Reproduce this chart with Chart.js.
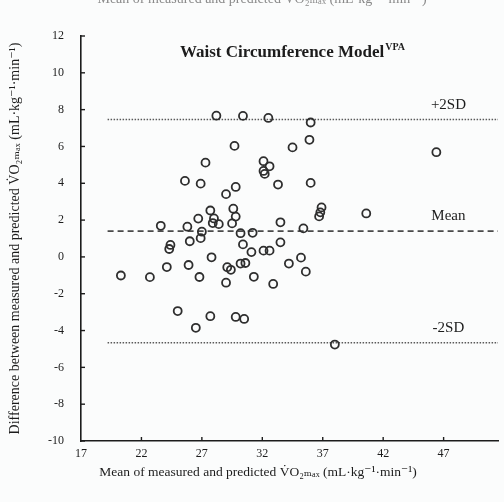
<!DOCTYPE html>
<html><head><meta charset="utf-8">
<script src="https://cdn.jsdelivr.net/npm/chart.js@4.4.1/dist/chart.umd.min.js"></script>
<style>html,body{margin:0;padding:0;background:#fbfcfc;}#wrap{width:504px;height:502px;position:relative;}</style>
</head><body><div id="wrap"><canvas id="c" width="504" height="502"></canvas></div>
<script>
// ---- data ----
const meanX = [28.2,30.4,32.5,36.0,35.9,29.7,34.5,46.4,27.3,32.1,32.6,32.1,32.2,25.6,26.9,33.3,36.0,29.8,29.0,29.6,27.7,36.9,36.8,36.7,40.6,26.7,28.0,29.8,27.9,28.4,29.5,33.5,23.6,25.8,35.4,27.0,31.2,30.2,26.9,26.0,30.4,33.5,24.4,24.3,31.1,32.1,32.6,27.8,35.2,30.2,30.6,24.1,25.9,29.1,29.4,34.2,35.6,20.3,22.7,26.8,31.3,29.0,32.9,25.0,27.7,29.8,30.5,26.5,38.0];
const diffY = [7.67,7.66,7.55,7.30,6.36,6.03,5.95,5.69,5.12,5.20,4.92,4.67,4.51,4.13,3.98,3.93,4.02,3.80,3.41,2.62,2.52,2.69,2.42,2.20,2.36,2.08,2.09,2.19,1.84,1.78,1.82,1.88,1.69,1.64,1.55,1.37,1.31,1.29,1.02,0.85,0.68,0.79,0.65,0.43,0.26,0.34,0.34,-0.02,-0.04,-0.36,-0.33,-0.55,-0.44,-0.56,-0.70,-0.36,-0.80,-1.01,-1.10,-1.09,-1.08,-1.40,-1.47,-2.94,-3.22,-3.26,-3.37,-3.85,-4.76];
const xTicks = [17,22,27,32,37,42,47];
const yTicks = [12,10,8,6,4,2,0,-2,-4,-6,-8,-10];
const limitNames = ['+2SD','Mean','-2SD'];
const limitValues = [7.46,1.40,-4.66];
const limitSpan = [19.2,51.5];
const chartTitle = 'Waist Circumference Model';
const chartTitleSup = 'VPA';
const xTitle = 'Mean of measured and predicted V\u0307O\u2082\u2098\u2090\u2093 (mL\u00B7kg\u207B\u00B9\u00B7min\u207B\u00B9)';
const yTitle = 'Difference between measured and predicted V\u0307O\u2082\u2098\u2090\u2093 (mL\u00B7kg\u207B\u00B9\u00B7min\u207B\u00B9)';
const topCutText = 'Mean of measured and predicted V\u0307O\u2082\u2098\u2090\u2093 (mL\u00B7kg\u207B\u00B9\u00B7min\u207B\u00B9)';

const SERIF = '"Liberation Serif", "DejaVu Serif", serif';
const INK = '#1c1c1c';

const lineDatasets = limitValues.map((v,i)=>({
  type:'line',
  label:limitNames[i],
  data:[{x:limitSpan[0],y:v},{x:limitSpan[1],y:v}],
  borderColor: i===1 ? '#4a4a4a' : '#5a5a5a',
  borderWidth: i===1 ? 1.7 : 1.5,
  borderDash: i===1 ? [6,4] : [1.5,1.5],
  pointRadius:0,
  fill:false,
  order:2
}));

const decor = {
  id:'decor',
  afterDraw(chart){
    const ctx = chart.ctx, ca = chart.chartArea;
    const xs = chart.scales.x, ys = chart.scales.y;
    ctx.save();
    // inward tick marks
    ctx.strokeStyle = INK; ctx.lineWidth = 1.4;
    xTicks.forEach(v=>{ if(v===xTicks[0]) return; const px = xs.getPixelForValue(v);
      ctx.beginPath(); ctx.moveTo(px, ca.bottom); ctx.lineTo(px, ca.bottom-4); ctx.stroke(); });
    yTicks.forEach(v=>{ const py = ys.getPixelForValue(v);
      ctx.beginPath(); ctx.moveTo(ca.left, py); ctx.lineTo(ca.left+4, py); ctx.stroke(); });
    // reference line labels
    ctx.fillStyle = INK;
    ctx.font = '15px ' + SERIF;
    ctx.textAlign = 'center'; ctx.textBaseline = 'middle';
    limitValues.forEach((v,i)=>{
      ctx.fillText(limitNames[i], xs.getPixelForValue(47.4), ys.getPixelForValue(v) - 15);
    });
    // in-plot title
    ctx.font = 'bold 17px ' + SERIF;
    const w1 = ctx.measureText(chartTitle).width;
    ctx.font = 'bold 10px ' + SERIF;
    const w2 = ctx.measureText(chartTitleSup).width;
    const cx = (ca.left + ca.right)/2 + 3;
    const x0 = cx - (w1 + w2 + 1)/2;
    ctx.textAlign = 'left'; ctx.textBaseline = 'alphabetic';
    ctx.font = 'bold 17px ' + SERIF;
    ctx.fillText(chartTitle, x0, ca.top + 21);
    ctx.font = 'bold 10px ' + SERIF;
    ctx.fillText(chartTitleSup, x0 + w1 + 1, ca.top + 14);
    // x axis title (offset left of the plot centre, as in the original)
    ctx.font = '13.5px ' + SERIF;
    ctx.textAlign = 'center'; ctx.textBaseline = 'middle';
    ctx.fillText(xTitle, 258, 472);
    // cut-off caption of the figure above
    ctx.fillStyle = '#8a8a8a';
    ctx.font = '14px ' + SERIF;
    ctx.textBaseline = 'alphabetic';
    ctx.fillText(topCutText, 262, 3);
    ctx.restore();
  }
};

new Chart(document.getElementById('c'), {
  type:'scatter',
  data:{
    datasets:[
      {
        label:'Subjects',
        data: meanX.map((x,i)=>({x:x, y:diffY[i]})),
        pointRadius:4,
        pointBorderWidth:1.8,
        borderColor:'#2e2e2e',
        backgroundColor:'rgba(0,0,0,0)',
        pointHoverRadius:4,
        order:1
      },
      ...lineDatasets
    ]
  },
  options:{
    responsive:false,
    animation:false,
    devicePixelRatio:1,
    layout:{padding:{top:36,right:6,left:0,bottom:0}},
    plugins:{legend:{display:false},tooltip:{enabled:false},title:{display:false}},
    scales:{
      x:{
        type:'linear', position:'bottom', min:17, max:51.5,
        afterBuildTicks:(a)=>{ a.ticks = xTicks.map(v=>({value:v})); },
        afterFit:(s)=>{ s.height = 61; },
        grid:{drawOnChartArea:false, drawTicks:false},
        border:{display:true, color:INK, width:1.6},
        ticks:{font:{family:SERIF,size:12}, color:INK, padding:6, maxRotation:0, autoSkip:false},
        title:{display:false}
      },
      y:{
        type:'linear', position:'left', min:-10, max:12,
        afterBuildTicks:(a)=>{ a.ticks = yTicks.map(v=>({value:v})); },
        afterFit:(s)=>{ s.width = 81; },
        grid:{drawOnChartArea:false, drawTicks:false},
        border:{display:true, color:INK, width:1.6},
        ticks:{font:{family:SERIF,size:12}, color:INK, padding:17, autoSkip:false},
        title:{display:true, text:yTitle, font:{family:SERIF,size:14}, color:INK, padding:{top:7,bottom:0}}
      }
    }
  },
  plugins:[decor]
});
</script>
</body></html>
